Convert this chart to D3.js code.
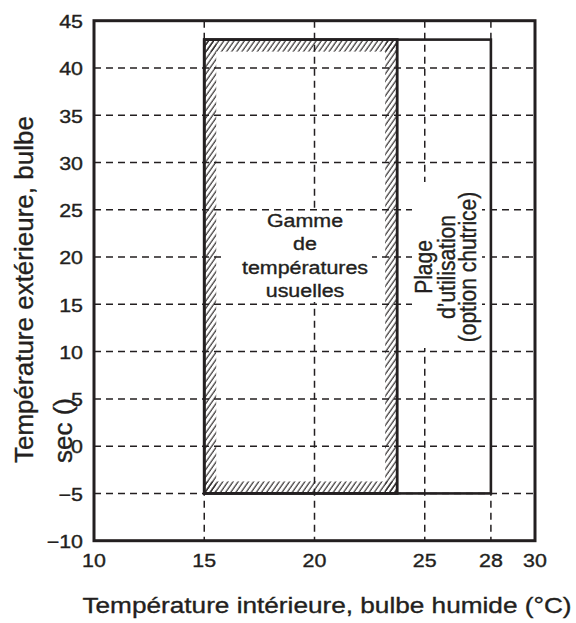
<!DOCTYPE html>
<html>
<head>
<meta charset="utf-8">
<script src="https://cdn.jsdelivr.net/npm/d3@7"></script>
<style>
  html, body { margin: 0; padding: 0; background: #fff; }
  svg { display: block; }
  text { font-family: "Liberation Sans", Arial, Helvetica, sans-serif; fill: #231f20; stroke: #231f20; stroke-width: 0.35px; }
</style>
</head>
<body>
<script>
// ---- data ----
const xTicks = [10, 15, 20, 25, 28, 30];
const yTicks = [-10, -5, 0, 5, 10, 15, 20, 25, 30, 35, 40, 45];
const gridX = [15, 20, 25, 28];
const gridY = [-5, 0, 5, 10, 15, 20, 25, 30, 35, 40];
const usualX = [15, 23.75];   // Gamme de températures usuelles
const usualY = [-5, 43];
const operX = [15, 28];       // Plage d'utilisation (option chutrice)
const operY = [-5, 43];
const usualLabel = ["Gamme", "de", "températures", "usuelles"];
const operLabel = ["Plage", "d’utilisation", "(option chutrice)"];
const xTitle = "Température intérieure, bulbe humide (°C)";
const yTitle = ["Température extérieure, bulbe", "sec ()"];

// ---- setup ----
const W = 576, H = 623;
const ink = "#231f20";
const SX = 1.19; // horizontal stretch of the typography
const svg = d3.select("body").append("svg").attr("width", W).attr("height", H);

const x = d3.scaleLinear().domain([10, 30]).range([94, 535]);
const y = d3.scaleLinear().domain([-10, 45]).range([540.7, 20.7]);

// hatch pattern
const defs = svg.append("defs");
defs.append("pattern")
  .attr("id", "hatch")
  .attr("patternUnits", "userSpaceOnUse")
  .attr("width", 4.2).attr("height", 10)
  .attr("patternTransform", "rotate(35)")
  .append("line")
  .attr("x1", 1).attr("y1", 0).attr("x2", 1).attr("y2", 10)
  .attr("stroke", ink).attr("stroke-width", 1.1);

// hatched bands inside the usual range rectangle
const band = 12;
const ux0 = x(usualX[0]), ux1 = x(usualX[1]), uy0 = y(usualY[1]), uy1 = y(usualY[0]);
const bands = [
  [ux0, uy0, ux1 - ux0, band],
  [ux0, uy1 - band, ux1 - ux0, band],
  [ux0, uy0, band, uy1 - uy0],
  [ux1 - band, uy0, band, uy1 - uy0]
];
svg.append("g").selectAll("rect").data(bands).join("rect")
  .attr("x", d => d[0]).attr("y", d => d[1])
  .attr("width", d => d[2]).attr("height", d => d[3])
  .attr("fill", "url(#hatch)");

// grid lines
const grid = svg.append("g")
  .attr("stroke", ink).attr("stroke-width", 1.5).attr("stroke-dasharray", "7,5");
grid.selectAll("line.h").data(gridY).join("line").attr("class", "h")
  .attr("x1", x(10)).attr("x2", x(30))
  .attr("y1", d => y(d)).attr("y2", d => y(d));
grid.selectAll("line.v").data(gridX).join("line").attr("class", "v")
  .attr("y1", y(45)).attr("y2", y(-10))
  .attr("x1", d => x(d)).attr("x2", d => x(d));

// white backgrounds behind annotations
svg.append("rect").attr("x", 222).attr("y", 211).attr("width", 150).attr("height", 91).attr("fill", "#fff");
svg.append("rect").attr("x", 412).attr("y", 182).attr("width", 70).attr("height", 166).attr("fill", "#fff");

// rectangles
svg.append("rect")
  .attr("x", x(operX[0])).attr("y", y(operY[1]))
  .attr("width", x(operX[1]) - x(operX[0])).attr("height", y(operY[0]) - y(operY[1]))
  .attr("fill", "none").attr("stroke", ink).attr("stroke-width", 2.6);
svg.append("rect")
  .attr("x", ux0).attr("y", uy0)
  .attr("width", ux1 - ux0).attr("height", uy1 - uy0)
  .attr("fill", "none").attr("stroke", ink).attr("stroke-width", 2.8);

// frame
svg.append("rect")
  .attr("x", x(10)).attr("y", y(45))
  .attr("width", x(30) - x(10)).attr("height", y(-10) - y(45))
  .attr("fill", "none").attr("stroke", ink).attr("stroke-width", 3);

// tick labels
const fmt = v => (v < 0 ? "\u2212" + Math.abs(v) : String(v));
svg.append("g").selectAll("text").data(yTicks).join("text")
  .attr("transform", d => `translate(83,${y(d) + 7.3}) scale(${SX},1)`)
  .attr("text-anchor", "end").attr("font-size", 18)
  .text(fmt);
svg.append("g").selectAll("text").data(xTicks).join("text")
  .attr("transform", d => `translate(${x(d)},567) scale(${SX},1)`)
  .attr("text-anchor", "middle").attr("font-size", 18)
  .text(fmt);

// axis titles
svg.append("text")
  .attr("transform", `translate(327,613) scale(${SX},1)`)
  .attr("text-anchor", "middle").attr("font-size", 22)
  .text(xTitle);
const yt = svg.append("g");
yt.append("text")
  .attr("transform", "translate(33,463) rotate(-90)")
  .attr("text-anchor", "start").attr("font-size", 26)
  .text(yTitle[0]);
yt.append("text")
  .attr("transform", "translate(72,463) rotate(-90)")
  .attr("text-anchor", "start").attr("font-size", 26)
  .text(yTitle[1]);

// annotations
const ulb = [227, 250, 273.5, 297];
svg.append("g").selectAll("text").data(usualLabel).join("text")
  .attr("transform", (d, i) => `translate(305,${ulb[i]}) scale(${SX},1)`)
  .attr("text-anchor", "middle").attr("font-size", 18)
  .text(d => d);
const olb = [432, 455, 476];
svg.append("g").selectAll("text").data(operLabel).join("text")
  .attr("transform", (d, i) => `translate(${olb[i]},267) rotate(-90) scale(1,1.1)`)
  .attr("text-anchor", "middle").attr("font-size", 21)
  .text(d => d);
</script>
</body>
</html>
